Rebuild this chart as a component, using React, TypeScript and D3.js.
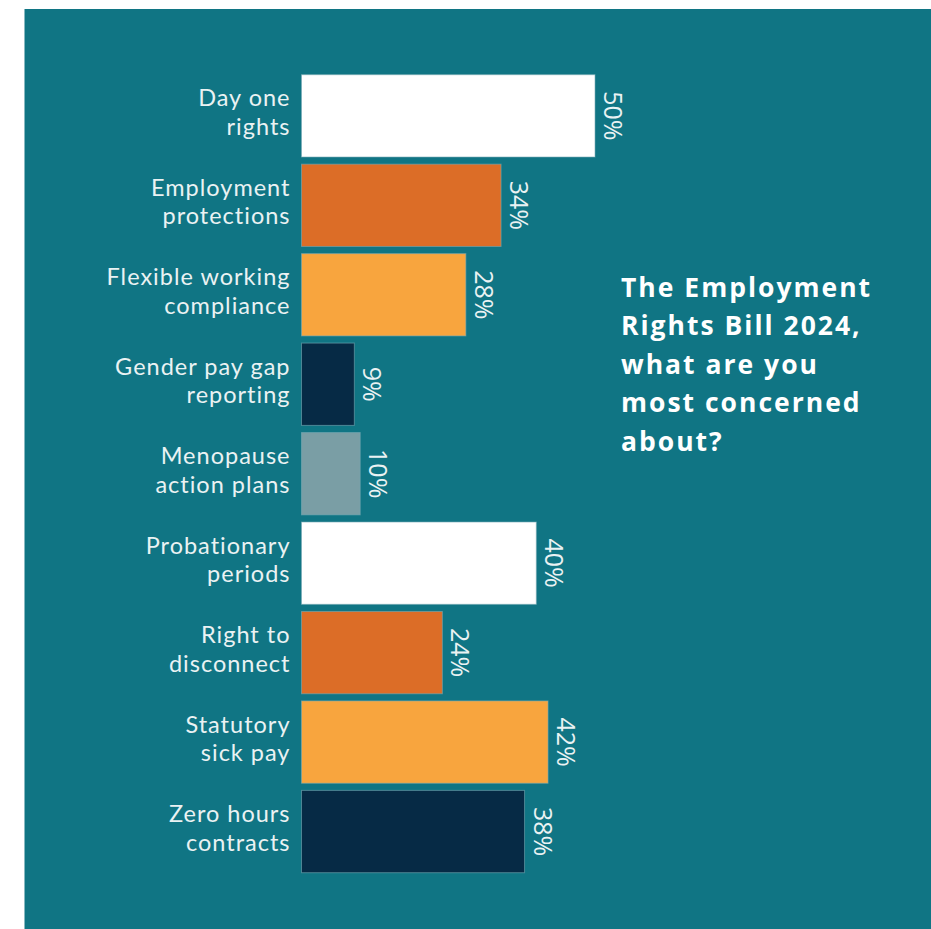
import React from "react";
import * as d3 from "d3";

const categories = [
  ["Day one", "rights"],
  ["Employment", "protections"],
  ["Flexible working", "compliance"],
  ["Gender pay gap", "reporting"],
  ["Menopause", "action plans"],
  ["Probationary", "periods"],
  ["Right to", "disconnect"],
  ["Statutory", "sick pay"],
  ["Zero hours", "contracts"],
];
const values = [50, 34, 28, 9, 10, 40, 24, 42, 38];
const barColors = ["#ffffff", "#dc6d27", "#f8a53e", "#062a45", "#7a9ea5", "#ffffff", "#dc6d27", "#f8a53e", "#062a45"];
const titleLines = ["The Employment", "Rights Bill 2024,", "what are you", "most concerned", "about?"];

const W = 931;
const H = 929;
const FONT = "'Open Sans', Lato, sans-serif";
const LABEL_FONT = "Lato, 'Open Sans', sans-serif";

export default function App() {
  const keys = categories.map((c) => c.join(" "));
  const x = d3.scaleLinear().domain([0, 50]).range([301.5, 595]);
  const y = d3.scaleBand().domain(keys).range([74.7, 872.7]).paddingInner(0.08).paddingOuter(0);

  return (
    <svg width={W} height={H} style={{ position: "absolute", left: 0, top: 0 }}>
      <rect x={0} y={0} width={W} height={H} fill="#ffffff" />
      <rect x={24.5} y={9} width={W - 24.5} height={H - 9} fill="#107584" />
      {keys.map((k, i) => {
        const y0 = y(k) as number;
        const bw = y.bandwidth();
        const cy = y0 + bw / 2;
        const xe = x(values[i]);
        return (
          <g key={k}>
            <rect
              x={x(0)}
              y={y0}
              width={xe - x(0)}
              height={bw}
              fill={barColors[i]}
              stroke="rgba(120,170,180,0.6)"
              strokeWidth={1}
            />
            <text x={290.5} y={cy - 9.5} textAnchor="end" fontFamily={LABEL_FONT} fontSize={23.5} letterSpacing={1} fill="#eaf2f3">
              {categories[i][0]}
            </text>
            <text x={290.5} y={cy + 19} textAnchor="end" fontFamily={LABEL_FONT} fontSize={23.5} letterSpacing={1} fill="#eaf2f3">
              {categories[i][1]}
            </text>
            <text
              transform={`translate(${xe + 9},${cy}) rotate(90)`}
              textAnchor="middle"
              fontFamily={FONT}
              fontSize={25}
              fill="#eaf2f3"
            >
              {values[i]}%
            </text>
          </g>
        );
      })}
      {titleLines.map((t, i) => (
        <text key={t} x={621} y={296.7 + i * 38.5} fontFamily={FONT} fontWeight={700} fontSize={26.5} letterSpacing={2} fill="#ffffff">
          {t}
        </text>
      ))}
    </svg>
  );
}
